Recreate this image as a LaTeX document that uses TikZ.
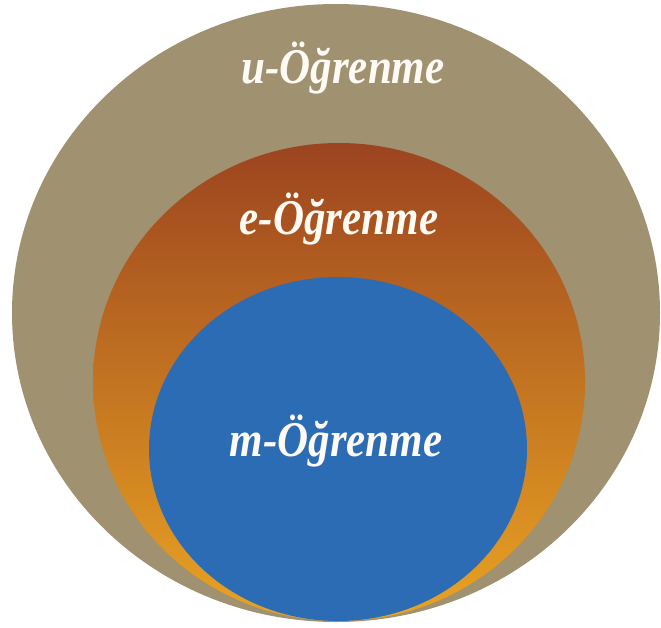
\documentclass[tikz,border=0pt]{standalone}
\usepackage{fontspec}
\setmainfont{Liberation Serif}[BoldItalicFont={Liberation Serif Bold Italic}]
\usetikzlibrary{shapes.geometric}
\definecolor{tan}{HTML}{A09170}
\definecolor{ebrown}{HTML}{9C4420}
\definecolor{eorange}{HTML}{EAA322}
\definecolor{mblue}{HTML}{2B6CB5}
\definecolor{txt}{HTML}{FFFBF4}
\tikzset{
  ring/.style={ellipse, inner sep=0pt, draw=none},
  lbl/.style={text=txt, font=\fontsize{50}{56}\selectfont\bfseries\itshape, inner sep=0pt, anchor=base, xscale=0.86}
}
\begin{document}
\begin{tikzpicture}[x=1pt,y=-1pt]
\useasboundingbox (0,0) rectangle (661,627);
\node[ring, fill=tan, minimum width=648pt, minimum height=618pt] (outer) at (336,313) {};
\node[ring, top color=ebrown, bottom color=eorange, minimum width=492pt, minimum height=478pt] (middle) at (339,382) {};
\node[ring, fill=mblue, minimum width=378pt, minimum height=344pt] (inner) at (338,449) {};
\node[lbl] (u) at (343,83) {u-Öğrenme};
\node[lbl] (e) at (339,234) {e-Öğrenme};
\node[lbl] (m) at (336,456) {m-Öğrenme};
\end{tikzpicture}
\end{document}
